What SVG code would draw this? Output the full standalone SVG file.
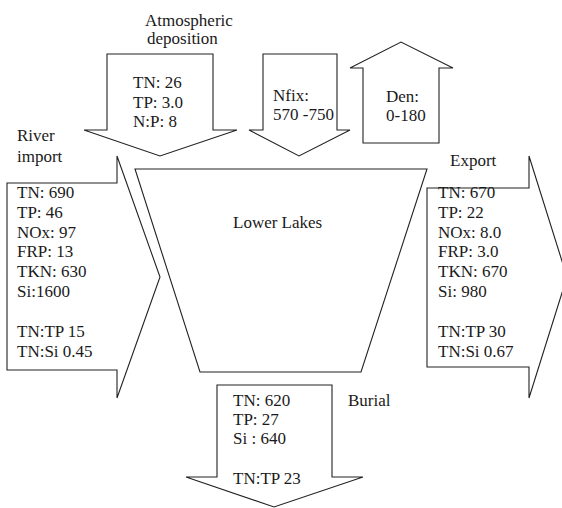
<svg xmlns="http://www.w3.org/2000/svg" width="562" height="508" viewBox="0 0 562 508">
<style>
.s{fill:#fff;stroke:#222;stroke-width:1.1;stroke-linejoin:miter}
text{font-family:'Liberation Serif','DejaVu Serif',serif;font-size:17px;fill:#1a1a1a}
</style>
<rect width="562" height="508" fill="#fff"/>
<g id="connectors">
<g id="atmospheric-arrow"><polygon class="s" points="107,54 213,54 213,130 237,130 160,156 84,130 107,130"/></g>
<g id="nfix-arrow"><polygon class="s" points="263,54 337,54 337,130 350,130 299,156 249,130 263,130"/></g>
<g id="den-arrow"><polygon class="s" points="363,143 439,143 439,68 453,68 401,42 350,68 363,68"/></g>
<g id="river-arrow"><polygon class="s" points="7,183 117,183 117,156 160,277 117,398 117,370 7,370"/></g>
<g id="export-arrow"><polygon class="s" points="427,188 529,188 529,156 567,277 529,398 529,367 427,367"/></g>
<g id="burial-arrow"><polygon class="s" points="217,385 332,385 332,477 363,477 274,507 186,477 217,477"/></g>
</g>
<g id="lower-lakes">
<polygon class="s" points="135,169 427,169 361,372 200,372"/>
<text x="233" y="228">Lower Lakes</text>
</g>
<g id="atmospheric">
<text x="145" y="26">Atmospheric</text>
<text x="147" y="44">deposition</text>
<text x="133" y="88">TN: 26</text>
<text x="133" y="108">TP: 3.0</text>
<text x="133" y="127">N:P: 8</text>
</g>
<g id="nfix">
<text x="273" y="101">Nfix:</text>
<text x="273" y="120">570 -750</text>
</g>
<g id="den">
<text x="386" y="102">Den:</text>
<text x="386" y="121">0-180</text>
</g>
<g id="river">
<text x="17" y="141">River</text>
<text x="17" y="162">import</text>
<text x="17" y="198">TN: 690</text>
<text x="17" y="218">TP: 46</text>
<text x="17" y="238">NOx: 97</text>
<text x="17" y="257">FRP: 13</text>
<text x="17" y="277">TKN: 630</text>
<text x="17" y="297">Si:1600</text>
<text x="17" y="337">TN:TP 15</text>
<text x="17" y="357">TN:Si 0.45</text>
</g>
<g id="export">
<text x="450" y="166">Export</text>
<text x="438" y="198">TN: 670</text>
<text x="438" y="218">TP: 22</text>
<text x="438" y="238">NOx: 8.0</text>
<text x="438" y="257">FRP: 3.0</text>
<text x="438" y="277">TKN: 670</text>
<text x="438" y="297">Si: 980</text>
<text x="438" y="337">TN:TP 30</text>
<text x="438" y="357">TN:Si 0.67</text>
</g>
<g id="burial">
<text x="348" y="406">Burial</text>
<text x="233" y="406">TN: 620</text>
<text x="233" y="425">TP: 27</text>
<text x="233" y="444">Si : 640</text>
<text x="233" y="484">TN:TP 23</text>
</g>
</svg>
